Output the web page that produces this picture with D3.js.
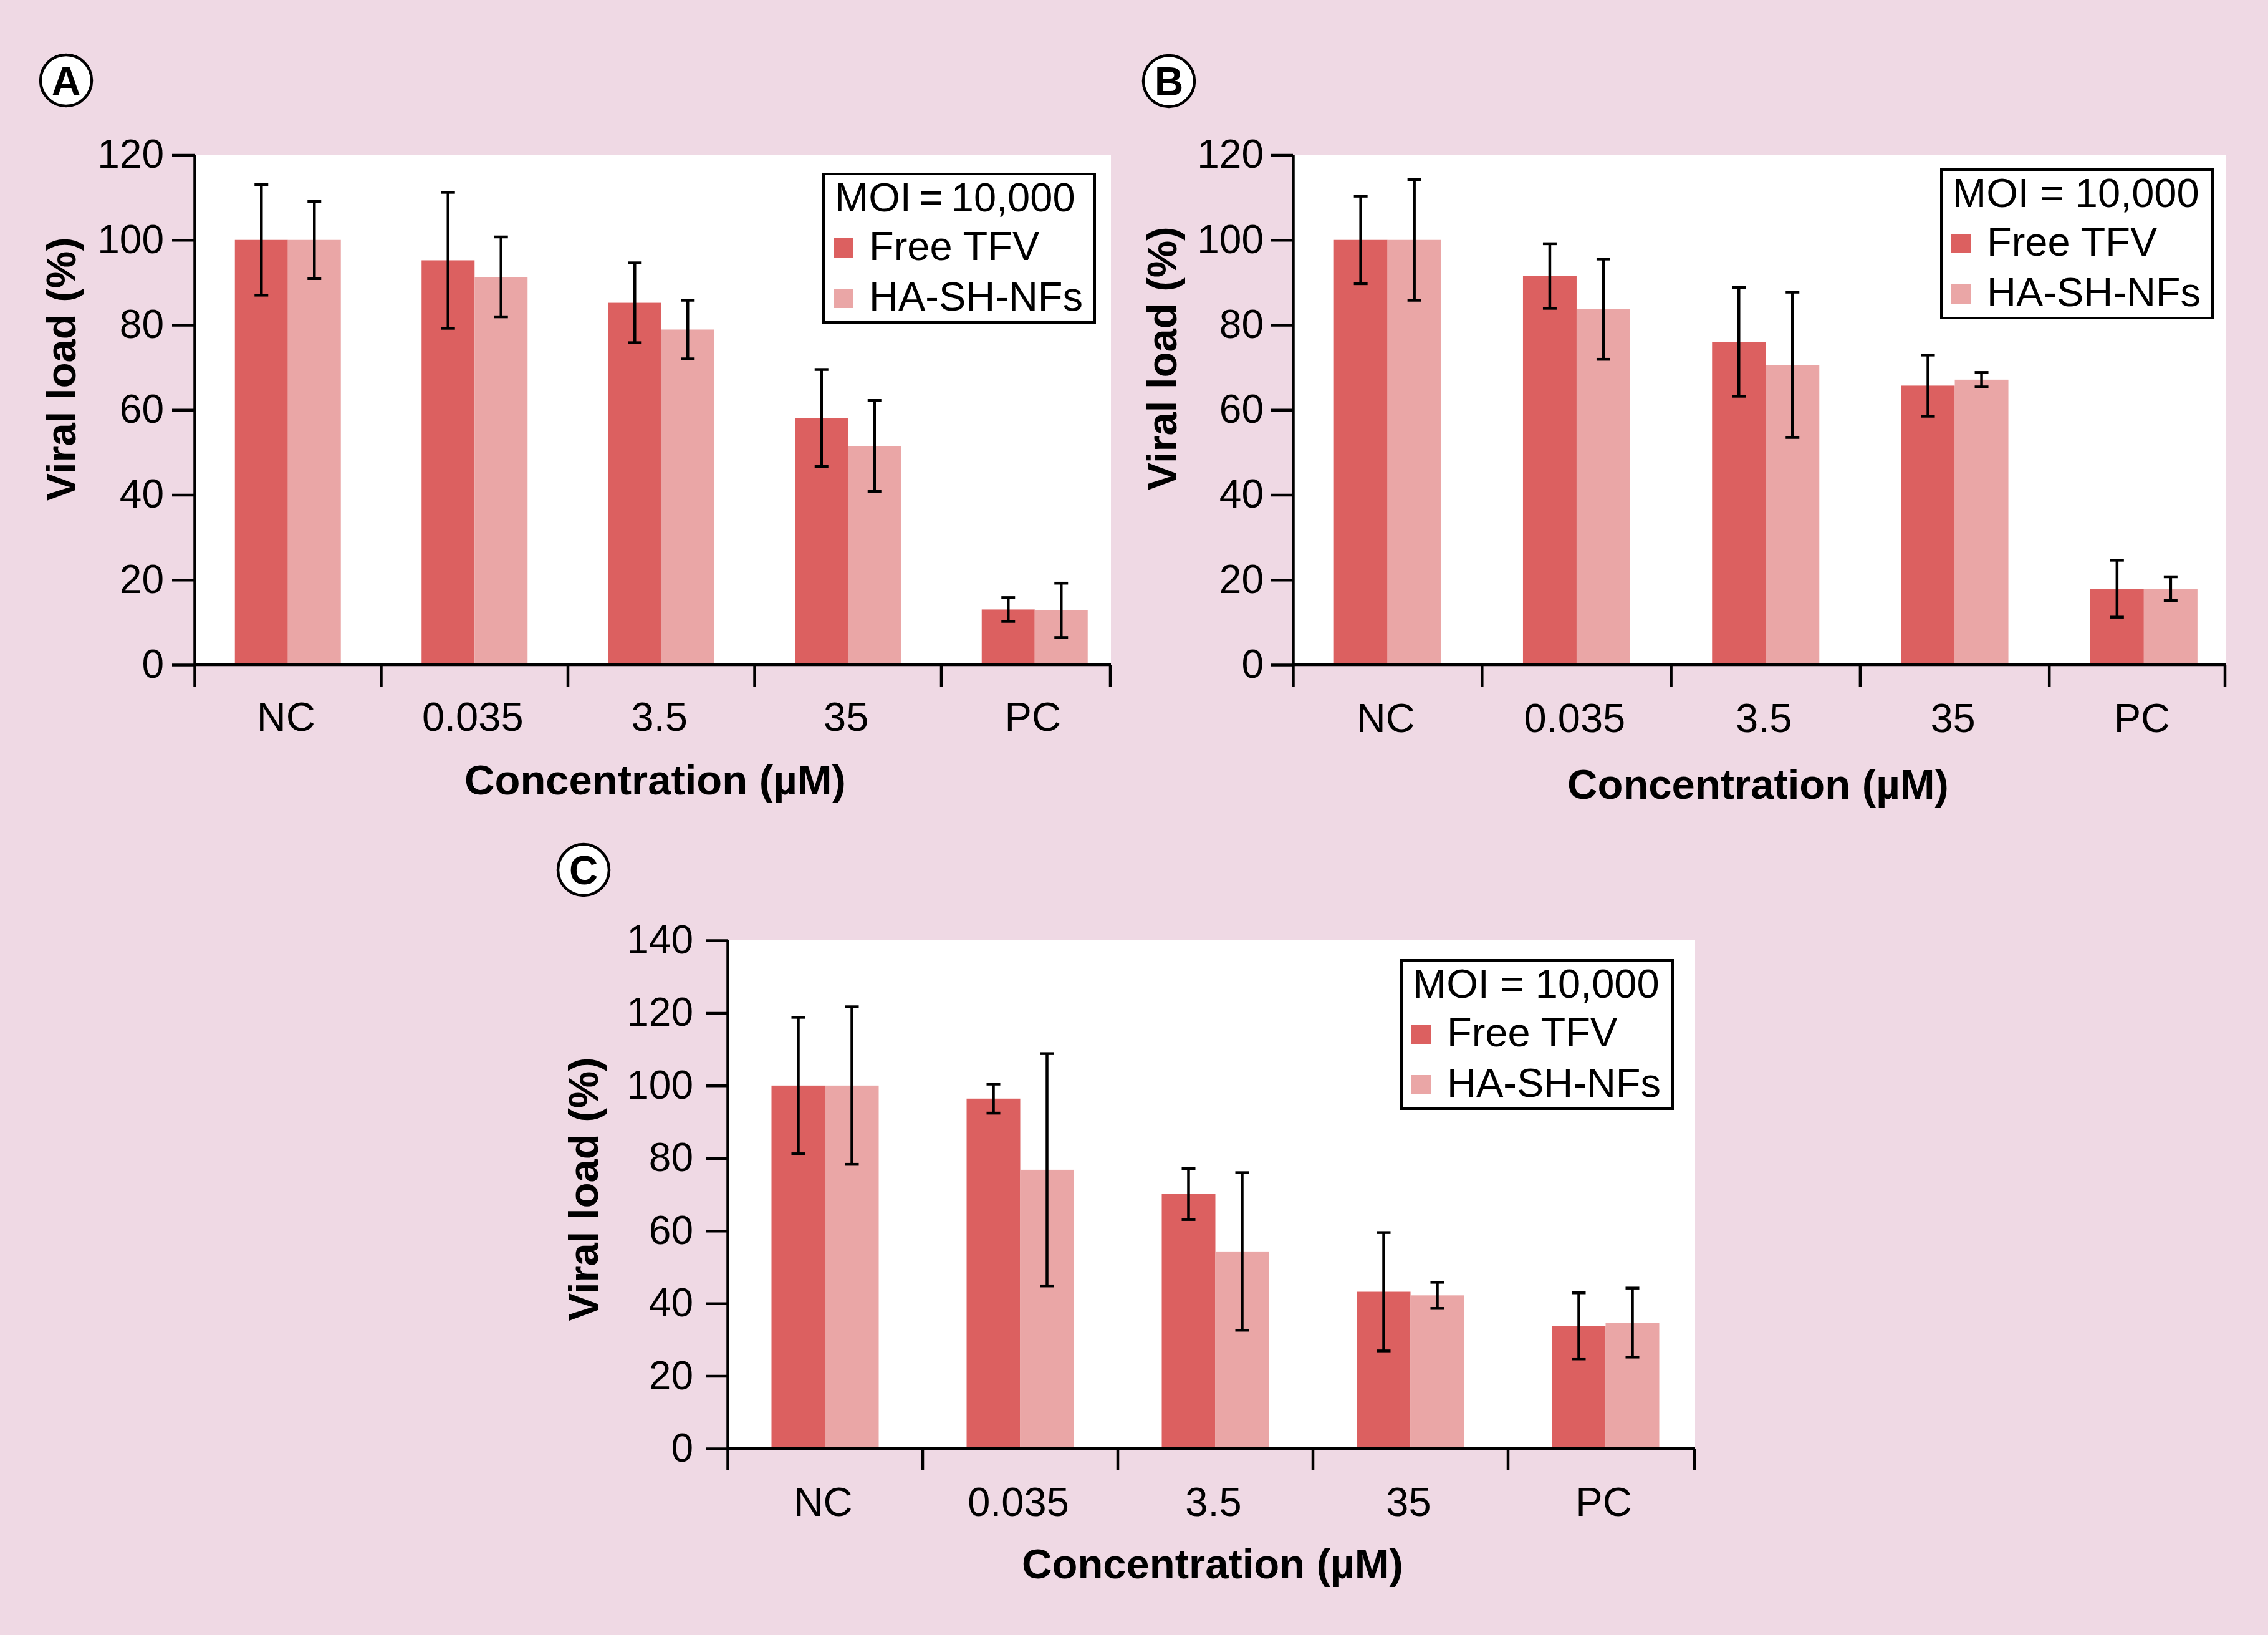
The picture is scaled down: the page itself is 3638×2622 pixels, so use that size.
<!DOCTYPE html>
<html>
<head>
<meta charset="utf-8">
<script src="https://cdn.jsdelivr.net/npm/d3@7"></script>
<style>
  html, body { margin: 0; padding: 0; background: #efd9e4; }
  svg { display: block; }
  text { font-family: "Liberation Sans", Arial, Helvetica, sans-serif; }
</style>
</head>
<body>
<svg id="chart" width="3638" height="2622"></svg>
<script>
// ---------------- DATA ----------------
const categories = ["NC", "0.035", "3.5", "35", "PC"];
const seriesNames = ["Free TFV", "HA-SH-NFs"];
const seriesColors = ["#dc6060", "#eaa6a6"];

// Panel A
const freeA    = [100, 95.2, 85.2, 58.1, 13.0];
const freeErrA = [13.0, 16.0, 9.4, 11.4, 2.8];
const haA      = [100, 91.3, 78.9, 51.5, 12.8];
const haErrA   = [9.1, 9.4, 6.9, 10.7, 6.4];
const yTicksA  = [0, 20, 40, 60, 80, 100, 120];

// Panel B
const freeB    = [100, 91.5, 76.0, 65.7, 17.9];
const freeErrB = [10.3, 7.6, 12.8, 7.2, 6.7];
const haB      = [100, 83.7, 70.6, 67.1, 17.9];
const haErrB   = [14.2, 11.8, 17.1, 1.7, 2.8];
const yTicksB  = [0, 20, 40, 60, 80, 100, 120];

// Panel C
const freeC    = [100, 96.4, 70.1, 43.2, 33.8];
const freeErrC = [18.8, 4.0, 7.0, 16.3, 9.1];
const haC      = [100, 76.8, 54.3, 42.2, 34.7];
const haErrC   = [21.7, 32.0, 21.7, 3.6, 9.5];
const yTicksC  = [0, 20, 40, 60, 80, 100, 120, 140];

const legendTitleA = "MOI\u2009=\u200910,000";
const legendTitleBC = "MOI = 10,000";
const xTitle = "Concentration (\u00b5M)";
const yTitle = "Viral load (%)";
const panelLetters = ["A", "B", "C"];

// ---------------- LAYOUT ----------------
const svg = d3.select("#chart");
svg.append("rect").attr("width", 3638).attr("height", 2622).attr("fill", "#efd9e4");

const FS = 64;
const FST = 67;
const SW = 4.5;

function drawPanel(cfg) {
  const g = svg.append("g");
  const yMax = cfg.yTicks[cfg.yTicks.length - 1];
  const x = d3.scaleBand().domain(categories)
    .range([cfg.x0, cfg.x0 + cfg.band * categories.length]);
  const y = d3.scaleLinear().domain([0, yMax]).range([cfg.y0, cfg.yTop]);
  const bw = cfg.barW;
  const sub = d3.scaleBand().domain(seriesNames)
    .range([(x.bandwidth() - 2 * bw) / 2, (x.bandwidth() + 2 * bw) / 2]);

  // white plot area
  g.append("rect")
    .attr("x", cfg.x0).attr("y", y(yMax))
    .attr("width", cfg.xEnd - cfg.x0).attr("height", y(0) - y(yMax))
    .attr("fill", "#ffffff");

  const series = [
    { name: seriesNames[0], vals: cfg.free, errs: cfg.freeErr, color: seriesColors[0] },
    { name: seriesNames[1], vals: cfg.ha, errs: cfg.haErr, color: seriesColors[1] }
  ];

  // bars
  series.forEach(s => {
    g.append("g").selectAll("rect")
      .data(categories.map((c, i) => ({ c, v: s.vals[i], e: s.errs[i] })))
      .join("rect")
      .attr("x", d => x(d.c) + sub(s.name))
      .attr("y", d => y(d.v))
      .attr("width", sub.bandwidth())
      .attr("height", d => y(0) - y(d.v))
      .attr("fill", s.color);
  });

  // error bars
  series.forEach(s => {
    const eg = g.append("g").attr("stroke", "#000").attr("stroke-width", SW).attr("fill", "none");
    const data = categories.map((c, i) => ({ c, v: s.vals[i], e: s.errs[i] }));
    const cx = d => x(d.c) + sub(s.name) + sub.bandwidth() / 2;
    eg.selectAll("line.v").data(data).join("line").attr("class", "v")
      .attr("x1", cx).attr("x2", cx)
      .attr("y1", d => y(d.v + d.e)).attr("y2", d => y(d.v - d.e));
    eg.selectAll("line.t").data(data).join("line").attr("class", "t")
      .attr("x1", d => cx(d) - 11).attr("x2", d => cx(d) + 11)
      .attr("y1", d => y(d.v + d.e)).attr("y2", d => y(d.v + d.e));
    eg.selectAll("line.b").data(data).join("line").attr("class", "b")
      .attr("x1", d => cx(d) - 11).attr("x2", d => cx(d) + 11)
      .attr("y1", d => y(d.v - d.e)).attr("y2", d => y(d.v - d.e));
  });

  // y axis
  const ya = g.append("g")
    .attr("transform", `translate(${cfg.x0},0)`)
    .call(d3.axisLeft(y).tickValues(cfg.yTicks).tickSize(cfg.yTick).tickSizeOuter(0).tickPadding(cfg.yPad));
  ya.attr("font-size", FS).attr("font-family", null);
  ya.selectAll("path.domain").attr("stroke", "#000").attr("stroke-width", SW)
    .attr("d", `M0.5,${y(0) + 35}V${y(yMax)}`);
  ya.selectAll("line").attr("stroke", "#000").attr("stroke-width", SW);
  ya.selectAll("text").attr("fill", "#000");

  // x axis: line + boundary ticks
  g.append("line")
    .attr("x1", cfg.x0).attr("x2", cfg.xEnd)
    .attr("y1", y(0)).attr("y2", y(0))
    .attr("stroke", "#000").attr("stroke-width", SW);
  const bounds = categories.slice(1).map(c => x(c)).concat([cfg.xEnd - 1]);
  g.append("g").selectAll("line").data(bounds).join("line")
    .attr("x1", d => d).attr("x2", d => d)
    .attr("y1", y(0)).attr("y2", y(0) + 35)
    .attr("stroke", "#000").attr("stroke-width", SW);
  g.append("g").selectAll("text").data(categories).join("text")
    .attr("x", c => x(c) + x.bandwidth() / 2 - 3)
    .attr("y", y(0) + cfg.catOff)
    .attr("text-anchor", "middle")
    .attr("font-size", 65)
    .text(c => c);

  // axis titles
  g.append("text")
    .attr("x", cfg.xTitleX).attr("y", cfg.xTitleY)
    .attr("text-anchor", "middle").attr("font-size", FST).attr("font-weight", "bold")
    .text(xTitle);
  g.append("text")
    .attr("transform", `translate(${cfg.yTitleX},${cfg.yTitleY}) rotate(-90)`)
    .attr("text-anchor", "middle").attr("font-size", FST).attr("font-weight", "bold")
    .text(yTitle);

  // panel letter
  g.append("circle").attr("cx", cfg.lx).attr("cy", cfg.ly).attr("r", 41)
    .attr("fill", "#fff").attr("stroke", "#000").attr("stroke-width", 4.5);
  g.append("text").attr("x", cfg.lx).attr("y", cfg.ly + 23)
    .attr("text-anchor", "middle").attr("font-size", 64).attr("font-weight", "bold")
    .text(cfg.letter);

  // legend
  const lg = g.append("g").attr("transform", `translate(${cfg.legX},${cfg.legY})`);
  lg.append("rect").attr("x", 0).attr("y", 0).attr("width", 435).attr("height", 238)
    .attr("fill", "#fff").attr("stroke", "#000").attr("stroke-width", 4);
  lg.append("text").attr("x", 18).attr("y", 60).attr("font-size", 65).text(cfg.legTitle);
  const rows = [138, 219];
  seriesNames.forEach((n, i) => {
    lg.append("rect").attr("x", 16).attr("y", rows[i] - 35).attr("width", 31).attr("height", 31)
      .attr("fill", seriesColors[i]);
    lg.append("text").attr("x", 73).attr("y", rows[i]).attr("font-size", 65).text(n);
  });
}

drawPanel({
  letter: panelLetters[0], lx: 106, ly: 129,
  x0: 312, xEnd: 1782, band: 299.5, barW: 85,
  y0: 1066, yTop: 248.5, yTicks: yTicksA, yTick: 36, yPad: 13,
  free: freeA, freeErr: freeErrA, ha: haA, haErr: haErrA,
  catOff: 106, xTitleX: 1051, xTitleY: 1274, yTitleX: 121, yTitleY: 592,
  legX: 1321, legY: 279, legTitle: legendTitleA
});
drawPanel({
  letter: panelLetters[1], lx: 1875, ly: 130,
  x0: 2074, xEnd: 3570, band: 303.3, barW: 86,
  y0: 1066, yTop: 248.5, yTicks: yTicksB, yTick: 35, yPad: 12,
  free: freeB, freeErr: freeErrB, ha: haB, haErr: haErrB,
  catOff: 108, xTitleX: 2820, xTitleY: 1281, yTitleX: 1887, yTitleY: 575,
  legX: 3114, legY: 272, legTitle: legendTitleBC
});
drawPanel({
  letter: panelLetters[2], lx: 936, ly: 1395,
  x0: 1167, xEnd: 2719, band: 313, barW: 86,
  y0: 2323, yTop: 1508, yTicks: yTicksC, yTick: 34, yPad: 21,
  free: freeC, freeErr: freeErrC, ha: haC, haErr: haErrC,
  catOff: 108, xTitleX: 1945, xTitleY: 2531, yTitleX: 959, yTitleY: 1907,
  legX: 2248, legY: 1540, legTitle: legendTitleBC
});
</script>
</body>
</html>
